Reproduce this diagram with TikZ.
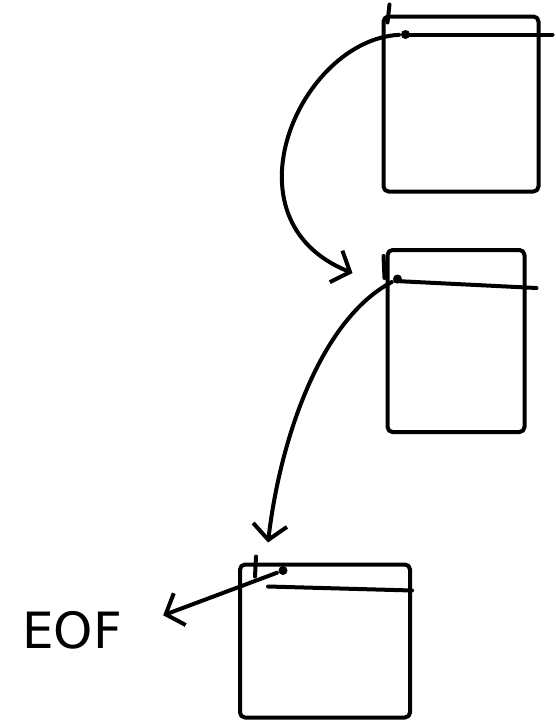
\documentclass[tikz,border=0pt]{standalone}
\usepackage{fontspec}
\setmainfont{DejaVu Sans}
\usetikzlibrary{arrows.meta,calc}
\begin{document}
\begin{tikzpicture}[x=1pt,y=-1pt,line width=4pt,line cap=round,line join=round,
  blk/.style={draw,rectangle,rounded corners=5pt,inner sep=0pt},
  hdr/.style={draw},
  ptr/.style={-{Straight Barb[length=15pt,width=34pt,line width=4pt]}},
  dotmark/.style={fill,circle,inner sep=0pt,minimum size=9pt}]
\useasboundingbox (0,0) rectangle (555,728);
% blocks
\node[blk,minimum width=155pt,minimum height=175pt] (b1) at (461,104) {};
\node[blk,minimum width=137pt,minimum height=182pt] (b2) at (456,341) {};
\node[blk,minimum width=170pt,minimum height=153pt] (b3) at (325,641) {};
% header lines
\draw[hdr] ($(b1.north west)+(22,20)$) -- ($(b1.north east)+(12,20)$);
\draw[hdr] ($(b2.north west)+(10,33)$) -- ($(b2.north east)+(10,40)$);
\draw[hdr] ($(b3.north west)+(30,24)$) -- ($(b3.north east)+(0,28)$);
% overshoot ticks at top-left
\draw ($(b1.north west)+(8,-10)$) -- ($(b1.north west)+(6,8)$);
\draw ($(b2.north west)+(-2,8)$) -- ($(b2.north west)+(-1,30)$);
\draw ($(b3.north west)+(18,-6)$) -- ($(b3.north west)+(17,14)$);
% pointer origins
\coordinate (h1) at ($(b1.north west)+(24,20)$);
\coordinate (h2) at ($(b2.north west)+(12,31)$);
\coordinate (h3) at ($(b3.north west)+(45,8)$);
\node[dotmark] (d1) at (h1) {};
\node[dotmark] (d2) at (h2) {};
\node[dotmark] (d3) at (h3) {};
% targets
\coordinate (t2) at ($(b2.north west)+(-33,25)$);
\coordinate (t3) at ($(b3.north west)+(30,-20)$);
% EOF
\node[font=\fontsize{50}{50}\selectfont,inner sep=0pt] (eof) at (72,630) {EOF};
% pointers
\draw[ptr] (d1) .. controls (300,40) and (220,220) .. (t2);
\draw[ptr] (d2) .. controls (320,320) and (280,440) .. (t3);
\draw[ptr,shorten >=42pt] (d3) -- (eof.east);
\end{tikzpicture}
\end{document}
